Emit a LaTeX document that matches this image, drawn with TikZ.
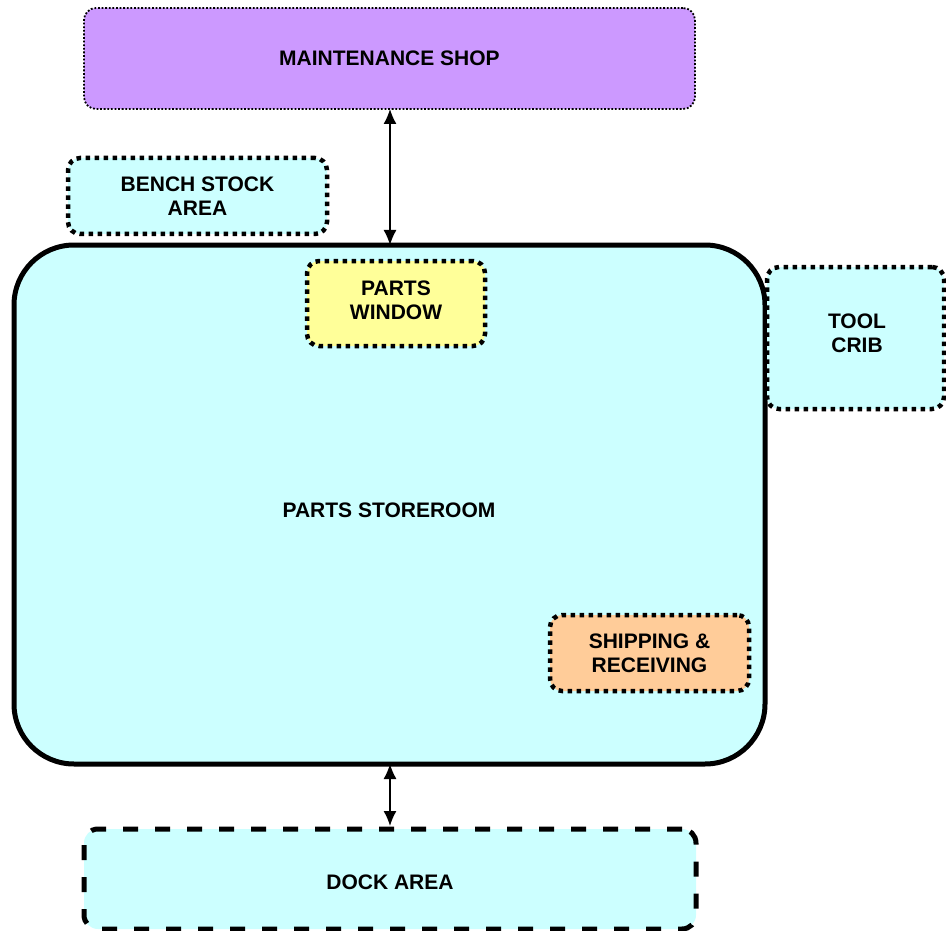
\documentclass[tikz,border=0pt]{standalone}
\usepackage{fontspec}
\setmainfont{Liberation Sans}
\usetikzlibrary{arrows.meta}
\definecolor{shopcol}{HTML}{CC99FF}
\definecolor{areacol}{HTML}{CCFFFF}
\definecolor{windowcol}{HTML}{FFFF99}
\definecolor{shipcol}{HTML}{FFCC99}
\begin{document}
\begin{tikzpicture}[x=1pt, y=-1pt,
    box/.style={inner sep=0pt, outer sep=0pt, align=center,
        font=\fontsize{21}{24}\selectfont\bfseries},
    dotbox/.style={box, draw, line width=4.5pt, dash pattern=on 4.5pt off 4.5pt,
        rounded corners=12pt},
    link/.style={{Latex[length=15pt,width=13pt]}-{Latex[length=15pt,width=13pt]}, line width=1.4pt}]
    \useasboundingbox (0,0) rectangle (946,931);

    % 维修车间
    \node[box, draw, fill=shopcol, line width=1.8pt, dash pattern=on 1.8pt off 1.8pt,
        rounded corners=12pt, minimum width=611pt, minimum height=101pt]
        (shop) at (389.5,58.5) {MAINTENANCE SHOP};

    % 工作台库存区
    \node[dotbox, fill=areacol, minimum width=259pt, minimum height=76pt]
        (bench) at (197.5,196) {BENCH STOCK\\AREA};

    % 零件库房
    \node[box, draw, fill=areacol, line width=5pt, rounded corners=60pt,
        minimum width=751pt, minimum height=519pt] (store) at (389.5,504.5) {};
    \node[box] (storelabel) at (389,510) {PARTS STOREROOM};

    % 零件窗口
    \node[dotbox, fill=windowcol, minimum width=178pt, minimum height=85pt]
        (window) at (396,303.5) {};
    \node[box] (windowlabel) at (396,300) {PARTS\\WINDOW};

    % 工具室
    \node[dotbox, fill=areacol, minimum width=177pt, minimum height=142pt]
        (crib) at (855.5,338) {};
    \node[box] (criblabel) at (857,333) {TOOL\\CRIB};

    % 收发货
    \node[dotbox, fill=shipcol, minimum width=199pt, minimum height=76pt]
        (ship) at (649.5,653) {SHIPPING \&\\RECEIVING};

    % 码头区
    \node[box, draw, fill=areacol, line width=5pt, dash pattern=on 15pt off 17pt,
        rounded corners=14pt, minimum width=612pt, minimum height=100pt]
        (dock) at (390,879) {};
    \node[box] (docklabel) at (390,882) {DOCK AREA};

    % 连接箭头
    \draw[link] (shop.south -| 390,0) -- (store.north -| 390,0);
    \draw[link, shorten >=3pt] (store.south -| 390,0) -- (dock.north -| 390,0);
\end{tikzpicture}
\end{document}
